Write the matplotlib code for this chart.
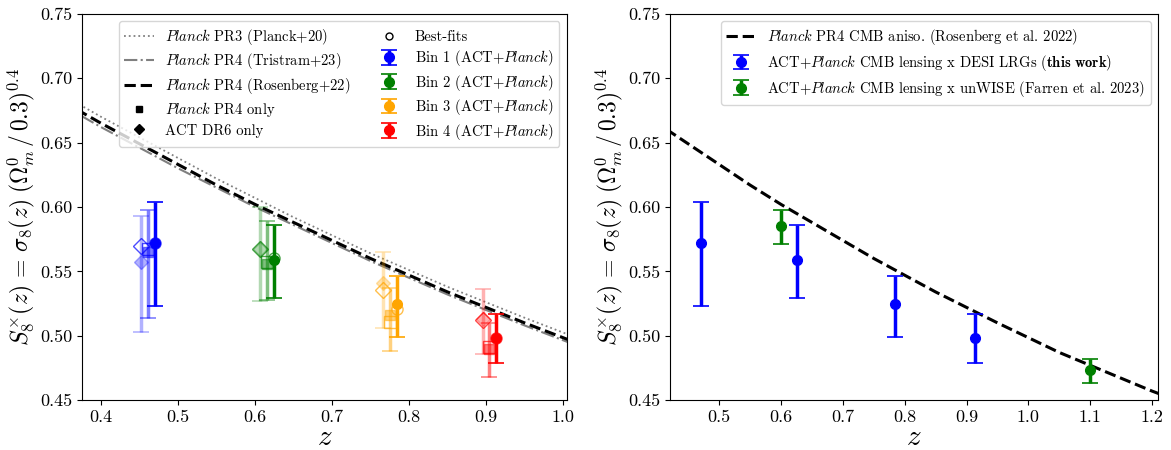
import matplotlib
matplotlib.use("Agg")
import matplotlib.pyplot as plt
from matplotlib.lines import Line2D
from matplotlib.ticker import FormatStrFormatter, MultipleLocator

plt.rcParams['font.family'] = 'cmr10'
plt.rcParams['mathtext.fontset'] = 'cm'
plt.rcParams['axes.formatter.use_mathtext'] = True

# model curves
z_curve = [0.35, 0.40, 0.45, 0.50, 0.55, 0.60, 0.65, 0.70, 0.75, 0.80, 0.85, 0.90,
           0.95, 1.00, 1.05, 1.10, 1.15, 1.20, 1.25]
s8_rosenberg = [0.682, 0.665, 0.649, 0.633, 0.617, 0.602, 0.588, 0.574, 0.560, 0.547,
                0.534, 0.522, 0.510, 0.4985, 0.487, 0.477, 0.467, 0.457, 0.448]
s8_pr3 = [0.687, 0.670, 0.654, 0.638, 0.622, 0.607, 0.592, 0.578, 0.564, 0.551,
          0.538, 0.526, 0.514, 0.5025, 0.491, 0.481, 0.471, 0.461, 0.452]
s8_tristram = [0.679, 0.662, 0.646, 0.630, 0.615, 0.600, 0.586, 0.572, 0.558, 0.545,
               0.532, 0.520, 0.508, 0.4965, 0.485, 0.475, 0.465, 0.455, 0.446]

bin_colors = ['blue', 'green', 'orange', 'red']

# ACT+Planck (combined)
z_bins = [0.470, 0.625, 0.785, 0.913]
s8_comb = [0.572, 0.559, 0.525, 0.498]
s8_comb_lo = [0.523, 0.529, 0.499, 0.479]
s8_comb_hi = [0.604, 0.586, 0.546, 0.517]
s8_comb_bf = [0.572, 0.560, 0.521, 0.498]

# Planck PR4 only
z_pr4 = [0.461, 0.616, 0.7755, 0.904]
s8_pr4 = [0.565, 0.556, 0.516, 0.490]
s8_pr4_lo = [0.514, 0.528, 0.488, 0.468]
s8_pr4_hi = [0.598, 0.589, 0.537, 0.510]
s8_pr4_bf = [0.567, 0.557, 0.511, 0.491]

# ACT DR6 only
z_act = [0.452, 0.6065, 0.766, 0.8955]
s8_act = [0.557, 0.567, 0.541, 0.513]
s8_act_lo = [0.503, 0.527, 0.506, 0.486]
s8_act_hi = [0.593, 0.600, 0.565, 0.536]
s8_act_bf = [0.570, 0.567, 0.5355, 0.512]

# unWISE (Farren et al. 2023)
z_unwise = [0.6, 1.1]
s8_unwise = [0.585, 0.473]
s8_unwise_lo = [0.571, 0.4635]
s8_unwise_hi = [0.598, 0.482]

ylab = r'$S_8^{\times}(z)\,=\,\sigma_8(z)\;(\Omega_m^0\,/\,0.3)^{0.4}$'

fig = plt.figure(figsize=(11.71, 4.5), dpi=100)
ax1 = fig.add_axes([0.070, 0.111, 0.414, 0.858])
ax2 = fig.add_axes([0.572, 0.111, 0.417, 0.858])

# ---- left panel
l_pr3, = ax1.plot(z_curve, s8_pr3, ls=':', color='grey', lw=1.3)
l_tri, = ax1.plot(z_curve, s8_tristram, ls='-.', color='grey', lw=1.5)
l_ros, = ax1.plot(z_curve, s8_rosenberg, ls='--', color='k', lw=2.2)

bin_handles = []
for i in range(4):
    c = bin_colors[i]
    ax1.errorbar(z_act[i], s8_act[i],
                 yerr=[[s8_act[i] - s8_act_lo[i]], [s8_act_hi[i] - s8_act[i]]],
                 fmt='D', color=c, ms=7, elinewidth=2.5, capsize=6, capthick=1.2, alpha=0.3)
    ax1.plot(z_act[i], s8_act_bf[i], 'D', mfc='none', mec=c, ms=8, alpha=0.7)
    ax1.errorbar(z_pr4[i], s8_pr4[i],
                 yerr=[[s8_pr4[i] - s8_pr4_lo[i]], [s8_pr4_hi[i] - s8_pr4[i]]],
                 fmt='s', color=c, ms=7, elinewidth=2.5, capsize=6, capthick=1.2, alpha=0.5)
    ax1.plot(z_pr4[i], s8_pr4_bf[i], 's', mfc='none', mec=c, ms=8, alpha=0.7)
    eb = ax1.errorbar(z_bins[i], s8_comb[i],
                      yerr=[[s8_comb[i] - s8_comb_lo[i]], [s8_comb_hi[i] - s8_comb[i]]],
                      fmt='o', color=c, ms=7, elinewidth=2.5, capsize=6, capthick=1.2)
    ax1.plot(z_bins[i], s8_comb_bf[i], 'o', mfc='none', mec=c, ms=8, alpha=0.7)
    bin_handles.append(eb)

h_sq = Line2D([], [], marker='s', color='k', ls='none', ms=5)
h_dia = Line2D([], [], marker='D', color='k', ls='none', ms=5)
h_bf = Line2D([], [], marker='o', mfc='none', mec='k', ls='none', ms=5)

handles = [l_pr3, l_tri, l_ros, h_sq, h_dia, h_bf] + bin_handles
labels = [r'$\it{Planck}$ PR3 (Planck+20)',
          r'$\it{Planck}$ PR4 (Tristram+23)',
          r'$\it{Planck}$ PR4 (Rosenberg+22)',
          r'$\it{Planck}$ PR4 only',
          'ACT DR6 only',
          'Best-fits',
          r'Bin 1 (ACT+$\it{Planck}$)',
          r'Bin 2 (ACT+$\it{Planck}$)',
          r'Bin 3 (ACT+$\it{Planck}$)',
          r'Bin 4 (ACT+$\it{Planck}$)']
ax1.legend(handles, labels, ncol=2, fontsize=10.5, loc='upper right',
           columnspacing=1.6, labelspacing=0.3)

ax1.set_xlim(0.375, 1.005)

# ---- right panel
l2, = ax2.plot(z_curve, s8_rosenberg, ls='--', color='k', lw=2.2)
e_lrg = ax2.errorbar(z_bins, s8_comb,
                     yerr=[[s8_comb[i] - s8_comb_lo[i] for i in range(4)],
                           [s8_comb_hi[i] - s8_comb[i] for i in range(4)]],
                     fmt='o', color='blue', ms=7, elinewidth=2.5, capsize=6, capthick=1.2)
e_unw = ax2.errorbar(z_unwise, s8_unwise,
                     yerr=[[s8_unwise[i] - s8_unwise_lo[i] for i in range(2)],
                           [s8_unwise_hi[i] - s8_unwise[i] for i in range(2)]],
                     fmt='o', color='green', ms=7, elinewidth=2.5, capsize=6, capthick=1.2)
ax2.legend([l2, e_lrg, e_unw],
           [r'$\it{Planck}$ PR4 CMB aniso. (Rosenberg et al. 2022)',
            r'ACT+$\it{Planck}$ CMB lensing x DESI LRGs ($\bf{this\ work}$)',
            r'ACT+$\it{Planck}$ CMB lensing x unWISE (Farren et al. 2023)'],
           fontsize=10.5, loc='upper right', labelspacing=0.4)
ax2.set_xlim(0.42, 1.21)

for ax in (ax1, ax2):
    ax.set_ylim(0.45, 0.75)
    ax.yaxis.set_major_locator(MultipleLocator(0.05))
    ax.xaxis.set_major_locator(MultipleLocator(0.1))
    ax.yaxis.set_major_formatter(FormatStrFormatter('%.2f'))
    ax.xaxis.set_major_formatter(FormatStrFormatter('%.1f'))
    ax.tick_params(labelsize=13)
    ax.set_xlabel(r'$z$', fontsize=21, labelpad=0)
    ax.set_ylabel(ylab, fontsize=17, labelpad=2)

fig.savefig('out.png', dpi=100)
